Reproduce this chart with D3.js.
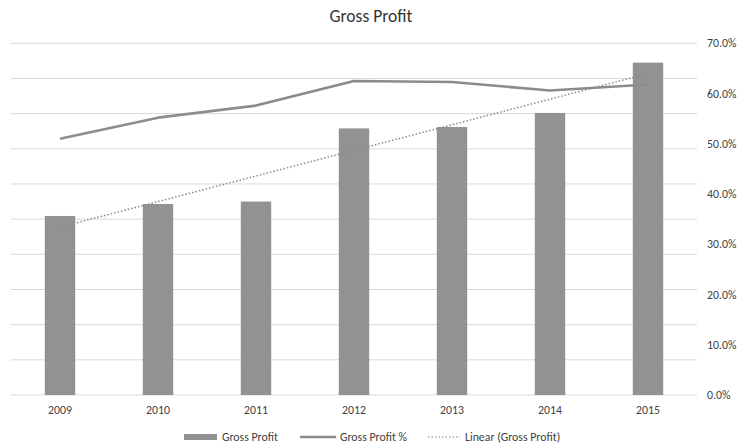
<!DOCTYPE html>
<html>
<head>
<meta charset="utf-8">
<script src="https://cdn.jsdelivr.net/npm/d3@7/dist/d3.min.js"></script>
<style>
  body { margin: 0; background: #fff; }
  svg { display: block; font-family: Carlito, Calibri, Lato, sans-serif; }
</style>
</head>
<body>
<svg id="chart" width="739" height="447"></svg>
<script>
const years = ["2009", "2010", "2011", "2012", "2013", "2014", "2015"];
const grossProfit = [509, 543, 550, 758, 762, 802, 945];        // hidden primary axis units
const grossProfitPct = [0.510, 0.552, 0.576, 0.625, 0.623, 0.606, 0.618];
const pctTicks = [0, 0.1, 0.2, 0.3, 0.4, 0.5, 0.6, 0.7];
const primaryMax = 1000;
const seriesNames = ["Gross Profit", "Gross Profit %", "Linear (Gross Profit)"];

(function () {
const svg = d3.select("#chart");
const pL = 11, pR = 697, pT = 43.3, pB = 395;
const fs = 11.8;

const x = d3.scaleBand().domain(years).range([pL, pR]).paddingInner(0.69).paddingOuter(0.345);
const y1 = d3.scaleLinear().domain([0, primaryMax]).range([pB, pT]);
const y2 = d3.scaleLinear().domain([0, 0.7]).range([pB, pT]);
const cx = d => x(d) + x.bandwidth() / 2;

svg.append("g").selectAll("line").data(y1.ticks(10)).join("line")
  .attr("x1", pL).attr("x2", pR)
  .attr("y1", d => y1(d)).attr("y2", d => y1(d))
  .attr("stroke", "#d9d9d9").attr("stroke-width", 1);

svg.append("g").selectAll("rect").data(years).join("rect")
  .attr("x", d => x(d)).attr("width", x.bandwidth())
  .attr("y", (d, i) => y1(grossProfit[i]))
  .attr("height", (d, i) => pB - y1(grossProfit[i]))
  .attr("fill", "#929292");

const line = d3.line().x((d, i) => cx(years[i])).y(d => y2(d));
svg.append("path").datum(grossProfitPct).attr("d", line)
  .attr("fill", "none").attr("stroke", "#8c8c8c").attr("stroke-width", 2.6)
  .attr("stroke-linejoin", "round");

const n = grossProfit.length;
const xs = d3.range(1, n + 1);
const mx = d3.mean(xs), my = d3.mean(grossProfit);
const slope = d3.sum(xs, (v, i) => (v - mx) * (grossProfit[i] - my)) / d3.sum(xs, v => (v - mx) ** 2);
const icpt = my - slope * mx;
const trend = [1, n].map(v => ({ x: cx(years[v - 1]), y: y1(icpt + slope * v) }));
svg.append("line")
  .attr("x1", trend[0].x).attr("y1", trend[0].y)
  .attr("x2", trend[1].x).attr("y2", trend[1].y)
  .attr("stroke", "#8a8a8a").attr("stroke-width", 1.5)
  .attr("stroke-dasharray", "1.5,2");

svg.append("g").selectAll("text").data(years).join("text")
  .attr("x", d => cx(d)).attr("y", 414)
  .attr("text-anchor", "middle").attr("font-size", fs).attr("fill", "#404040")
  .text(d => d);

svg.append("g").selectAll("text").data(pctTicks).join("text")
  .attr("x", 707).attr("y", d => y2(d) + 4)
  .attr("font-size", fs).attr("fill", "#404040")
  .text(d => d3.format(".1%")(d));

svg.append("text").attr("x", 371).attr("y", 22)
  .attr("text-anchor", "middle").attr("font-size", 17.5).attr("fill", "#333")
  .attr("font-weight", 300)
  .text("Gross Profit");

const lg = svg.append("g").attr("font-size", fs).attr("fill", "#404040");
const ly = 437;
lg.append("rect").attr("x", 184).attr("y", ly - 3).attr("width", 33).attr("height", 6).attr("fill", "#929292");
lg.append("text").attr("x", 222).attr("y", ly + 4).text(seriesNames[0]);
lg.append("line").attr("x1", 300).attr("x2", 336).attr("y1", ly).attr("y2", ly)
  .attr("stroke", "#8c8c8c").attr("stroke-width", 2.6);
lg.append("text").attr("x", 340).attr("y", ly + 4).text(seriesNames[1]);
lg.append("line").attr("x1", 428).attr("x2", 460).attr("y1", ly).attr("y2", ly)
  .attr("stroke", "#8a8a8a").attr("stroke-width", 1.2).attr("stroke-dasharray", "1.5,2");
lg.append("text").attr("x", 465).attr("y", ly + 4).text(seriesNames[2]);
})();
</script>
</body>
</html>
